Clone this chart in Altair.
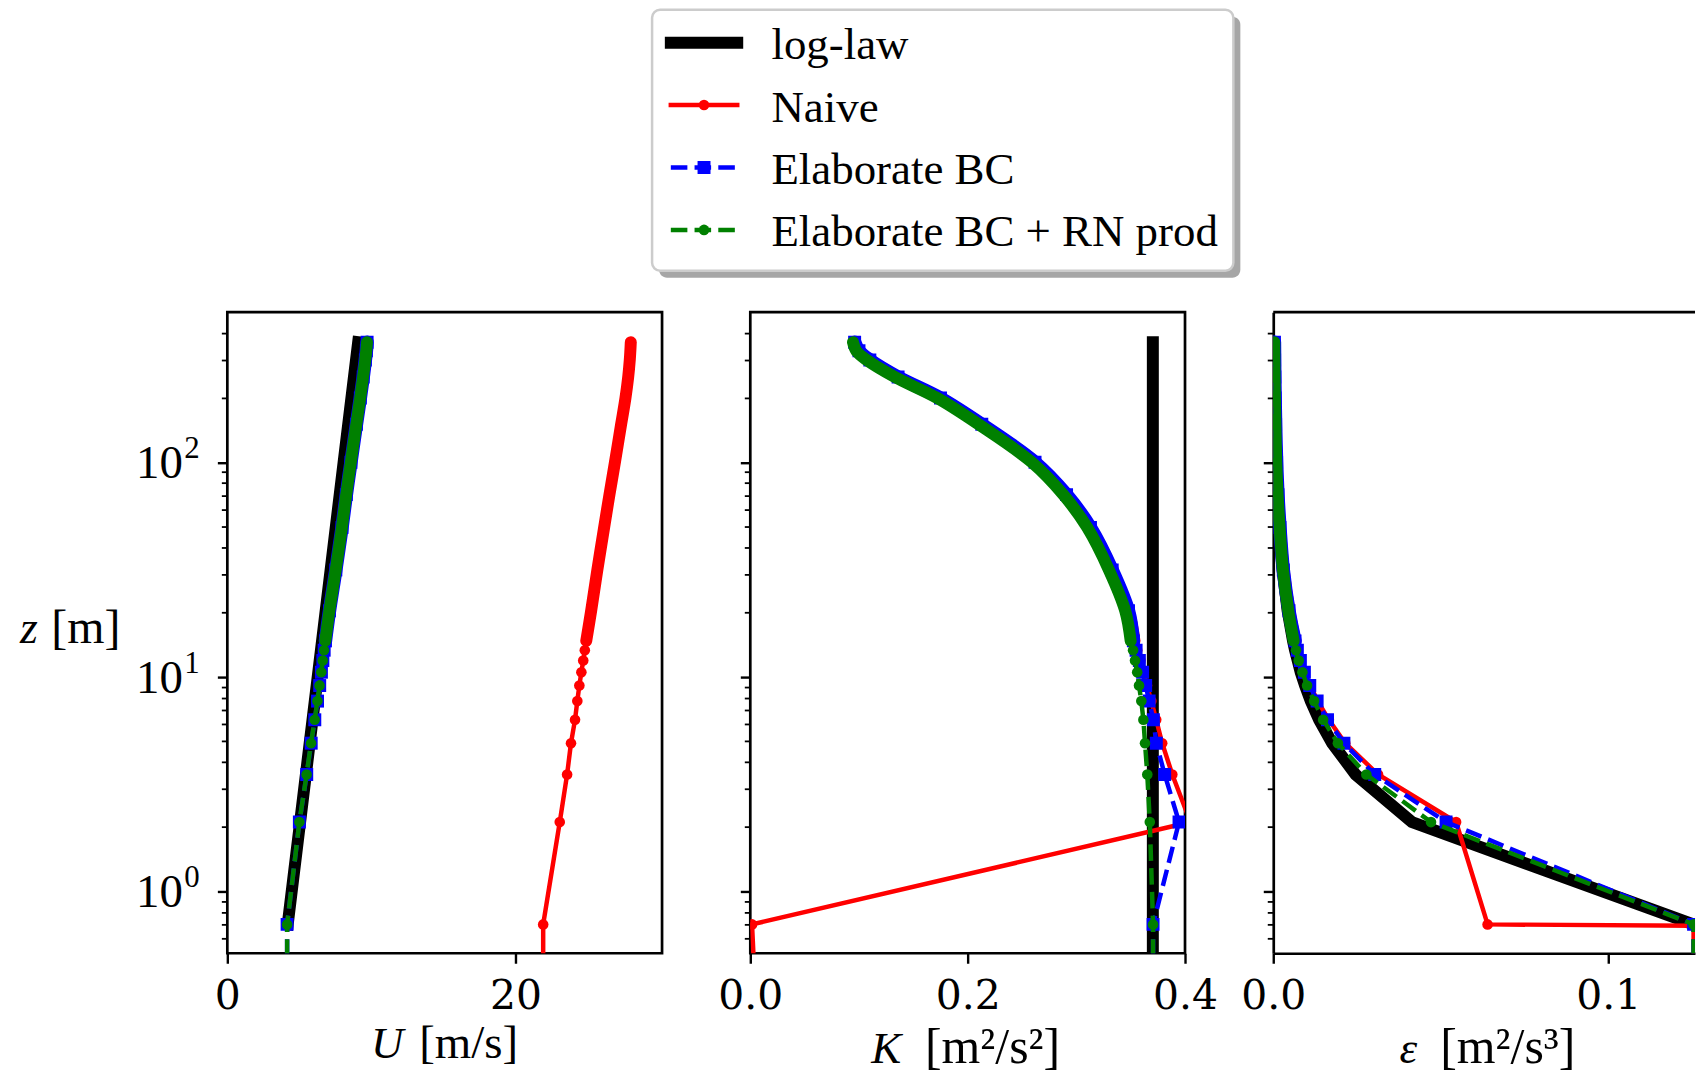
import altair as alt
import pandas as pd

FONT = "Liberation Serif"
TICK_FONT = "DejaVu Serif"
FS = 45

# ------------------------------------------------------------------ data
LABELS = ["log-law", "Naive", "Elaborate BC", "Elaborate BC + RN prod"]

# sampled cell-centre heights [m]
Z = [0.7, 2.1, 3.5, 4.9, 6.3, 7.7, 9.1, 10.5, 11.9, 13.3, 14.7,
     20.3, 31.5, 49.7, 70.7, 100.1, 150.5, 199.5, 249.9, 300.3, 331.1, 363.3]
# wall height: lies below the lower axis limit, only the clipped segment shows
Z_WALL = 0.3

# mean velocity U [m/s]
Z_U_LOGLAW = [0.7, 9.1, 100.1, 363.3]
U_LOGLAW = [4.19, 6.20, 8.07, 9.08]
U_NAIVE = [21.92, 23.07, 23.58, 23.85, 24.13, 24.29, 24.43, 24.57, 24.70, 24.81, 24.91,
           25.25, 25.68, 26.15, 26.52, 26.90, 27.33, 27.63, 27.82, 27.93, 27.97, 28.00]
U_BC = [4.15, 5.00, 5.51, 5.82, 6.07, 6.26, 6.41, 6.53, 6.63, 6.72, 6.81,
        7.09, 7.53, 7.96, 8.26, 8.58, 8.96, 9.23, 9.43, 9.58, 9.65, 9.70]
U_RN = [4.15, 5.00, 5.50, 5.81, 6.06, 6.25, 6.40, 6.52, 6.62, 6.71, 6.80,
        7.08, 7.52, 7.95, 8.25, 8.57, 8.95, 9.22, 9.42, 9.57, 9.64, 9.69]
U_WALL = {"Naive": 21.92, "Elaborate BC": 4.15, "Elaborate BC + RN prod": 4.15}

# turbulent kinetic energy K [m2/s2]
Z_K_LOGLAW = [Z_WALL, 0.7, 363.3]
K_LOGLAW = [0.3704, 0.3704, 0.3704]
K_NAIVE = [0.0016, 0.4050, 0.3883, 0.3790, 0.3735, 0.3690, 0.3650, 0.3620, 0.3590, 0.3560, 0.3535,
           0.3480, 0.3330, 0.3130, 0.2910, 0.2620, 0.2130, 0.1750, 0.1360, 0.1100, 0.1000, 0.0960]
K_BC = [0.3706, 0.3945, 0.3813, 0.3736, 0.3709, 0.3670, 0.3638, 0.3610, 0.3580, 0.3550, 0.3525,
        0.3480, 0.3330, 0.3130, 0.2910, 0.2620, 0.2130, 0.1750, 0.1360, 0.1100, 0.1000, 0.0960]
K_RN = [0.3706, 0.3676, 0.3653, 0.3632, 0.3617, 0.3598, 0.3577, 0.3560, 0.3540, 0.3522, 0.3500,
        0.3450, 0.3300, 0.3100, 0.2880, 0.2590, 0.2100, 0.1720, 0.1330, 0.1070, 0.0975, 0.0945]
K_WALL = {"Naive": 0.005, "Elaborate BC": 0.3706, "Elaborate BC + RN prod": 0.3706}

# dissipation epsilon [m2/s3]
E_LOGLAW = [0.1255, 0.0414, 0.0246, 0.0176, 0.0137, 0.0112, 0.0095, 0.0082, 0.0073, 0.0065, 0.0059,
            0.0043, 0.0028, 0.00175, 0.00123, 0.00087, 0.00058, 0.00044, 0.00035, 0.00029, 0.00026, 0.00024]
E_NAIVE = [0.0640, 0.0546, 0.0313, 0.0215, 0.0166, 0.0133, 0.0110, 0.0094, 0.0082, 0.0073, 0.0066,
           0.0048, 0.0031, 0.0020, 0.0014, 0.0010, 0.0007, 0.00055, 0.00046, 0.00040, 0.00038, 0.00036]
E_BC = [0.1255, 0.0516, 0.0303, 0.0211, 0.0162, 0.0131, 0.0109, 0.0093, 0.0081, 0.0072, 0.0065,
        0.0047, 0.0030, 0.0020, 0.0014, 0.0010, 0.0007, 0.00055, 0.00046, 0.00040, 0.00038, 0.00036]
E_RN = [0.1255, 0.0471, 0.0278, 0.0193, 0.0149, 0.0122, 0.0101, 0.0087, 0.0076, 0.0068, 0.0061,
        0.0045, 0.0029, 0.0019, 0.0013, 0.0009, 0.00065, 0.0005, 0.00042, 0.00037, 0.00035, 0.00033]
Z_E_NAIVE_WALL = [Z_WALL, 0.69]
E_NAIVE_WALL = [0.1255, 0.1255]
E_WALL = 0.1255

Y_TICKS = [0.6, 0.7, 0.8, 0.9, 1, 2, 3, 4, 5, 6, 7, 8, 9, 10, 20, 30, 40, 50, 60, 70, 80, 90,
           100, 200, 300, 400]
Y_LABEL_Z = [1, 10, 100]
Y_LABEL_EXP = ["0", "1", "2"]

# ------------------------------------------------------------------ style
W, H = 436, 643
W3 = 423            # last panel runs to the right edge of the figure
DASH = [16.6, 7.2]
BAND_FROM = 14.7    # above this height the markers merge into a band
FRAME_W = 2.7
STYLES = {
    "log-law": dict(color="black", width=12, dash=None),
    "Naive": dict(color="red", width=4.5, dash=None, shape="circle", size=113, band=12),
    "Elaborate BC": dict(color="blue", width=4.5, dash=DASH, shape="square", size=169, band=13.5),
    "Elaborate BC + RN prod": dict(color="green", width=4.5, dash=DASH, shape="circle", size=113, band=12),
}

YSCALE = alt.Scale(type="log", domain=[0.5133, 501.6], nice=False)
IS_DECADE = "abs(log(datum.value) / LN10 - round(log(datum.value) / LN10)) < 1e-6"


def y_encoding(domain_line=False):
    kw = dict(values=Y_TICKS, labels=False, title=None, grid=False, tickColor="black",
              tickSize={"condition": {"test": IS_DECADE, "value": 10}, "value": 6},
              tickWidth={"condition": {"test": IS_DECADE, "value": 2.4}, "value": 1.8})
    if domain_line:
        kw.update(domain=True, domainColor="black", domainWidth=FRAME_W)
    else:
        kw.update(domain=False)
    return alt.Y("z:Q", scale=YSCALE, axis=alt.Axis(**kw))


def x_encoding(domain, values, fmt, domain_line=False):
    kw = dict(values=values, format=fmt, title=None, grid=False,
              tickColor="black", tickSize=10, tickWidth=2.4,
              labelFont=TICK_FONT, labelFontSize=41, labelColor="black",
              labelPadding=13, labelFlush=False, labelOverlap=False, labelBound=False)
    if domain_line:
        kw.update(domain=True, domainColor="black", domainWidth=FRAME_W)
    else:
        kw.update(domain=False)
    return alt.X("v:Q", scale=alt.Scale(domain=domain, nice=False, zero=False), axis=alt.Axis(**kw))


def frame(z, v):
    return pd.DataFrame({"i": list(range(len(z))), "z": list(z), "v": list(v)})


def series_layers(df, label, x, y):
    st = STYLES[label]
    kw = dict(color=st["color"], strokeWidth=st["width"], clip=True)
    if st["dash"]:
        kw["strokeDash"] = st["dash"]
        kw["strokeCap"] = "butt"
    else:
        kw["strokeCap"] = "square"
    out = [alt.Chart(df).mark_line(**kw).encode(x=x, y=y, order="i:Q")]
    if "shape" in st:
        band = df[df["z"] >= BAND_FROM]
        out.append(alt.Chart(band).mark_line(color=st["color"], strokeWidth=st["band"],
                                             strokeCap="round", strokeJoin="round",
                                             interpolate="catmull-rom", clip=True)
                   .encode(x=x, y=y, order="i:Q"))
        out.append(alt.Chart(df).mark_point(shape=st["shape"], size=st["size"], filled=True,
                                            opacity=1, color=st["color"], clip=True)
                   .encode(x=x, y=y))
    return out


def text(s, x, y, align="left", style="normal", size=FS):
    return alt.Chart(pd.DataFrame({"t": [s]})).mark_text(
        align=align, baseline="alphabetic", font=FONT, fontSize=size, fontStyle=style,
        color="black").encode(x=alt.value(x), y=alt.value(y), text="t:N")


def axis_title(symbol, unit, x_left, x_right, y, unit_size=47):
    return [text(symbol, x_left, y, style="italic", size=45),
            text(unit, x_right, y, align="right", size=unit_size)]


# ------------------------------------------------------------------ panel U
yu = y_encoding()
xu = x_encoding([0, 30.17], [0, 20], "d")
p1 = series_layers(frame(Z_U_LOGLAW, U_LOGLAW), "log-law", xu, yu)
p1 += series_layers(frame([Z_WALL] + Z, [U_WALL["Naive"]] + U_NAIVE), "Naive", xu, yu)
p1 += series_layers(frame([Z_WALL] + Z, [U_WALL["Elaborate BC"]] + U_BC), "Elaborate BC", xu, yu)
p1 += series_layers(frame([Z_WALL] + Z, [U_WALL["Elaborate BC + RN prod"]] + U_RN),
                    "Elaborate BC + RN prod", xu, yu)
ylab = pd.DataFrame({"z": Y_LABEL_Z, "base": ["10"] * 3, "exp": Y_LABEL_EXP})
p1.append(alt.Chart(ylab).mark_text(align="right", baseline="alphabetic", dy=16, font=FONT,
                                    fontSize=47, color="black")
          .encode(x=alt.value(-44.5), y=yu, text="base:N"))
p1.append(alt.Chart(ylab).mark_text(align="left", baseline="alphabetic", dy=-4, font=FONT,
                                    fontSize=31, color="black")
          .encode(x=alt.value(-43.2), y=yu, text="exp:N"))
p1.append(text("z", -208, 332, style="italic", size=46))
p1.append(text("[m]", -107.2, 332, align="right", size=48))
p1 += axis_title("U", "[m/s]", 144, 291.6, 748)
panel_u = alt.layer(*p1).properties(width=W, height=H)

# ------------------------------------------------------------------ panel K
yk = y_encoding()
xk = x_encoding([0, 0.4], [0.0, 0.2, 0.4], ".1f")
p2 = series_layers(frame(Z_K_LOGLAW, K_LOGLAW), "log-law", xk, yk)
p2 += series_layers(frame([Z_WALL] + Z, [K_WALL["Naive"]] + K_NAIVE), "Naive", xk, yk)
p2 += series_layers(frame([Z_WALL] + Z, [K_WALL["Elaborate BC"]] + K_BC), "Elaborate BC", xk, yk)
p2 += series_layers(frame([Z_WALL] + Z, [K_WALL["Elaborate BC + RN prod"]] + K_RN),
                    "Elaborate BC + RN prod", xk, yk)
p2 += axis_title("K", "[m²/s²]", 121.2, 310.7, 753, unit_size=50)

# legend box, drawn above the middle panel
one = pd.DataFrame({"k": [0]})
LX, LX2, LY, LY2 = -98.5, 484.5, -303.3, -41.5
SH = 7
p2.append(alt.Chart(one).mark_rect(fill="#a6a6a6", cornerRadius=8).encode(
    x=alt.value(LX + SH), x2=alt.value(LX2 + SH), y=alt.value(LY + SH), y2=alt.value(LY2 + SH)))
p2.append(alt.Chart(one).mark_rect(fill="white", stroke="#cccccc", strokeWidth=2.5,
                                   cornerRadius=8).encode(
    x=alt.value(LX), x2=alt.value(LX2), y=alt.value(LY), y2=alt.value(LY2)))
ROW0, ROW_STEP = -270.3, 62.6
for i, label in enumerate(LABELS):
    st = STYLES[label]
    yr = ROW0 + ROW_STEP * i
    kw = dict(color=st["color"], strokeWidth=st["width"])
    if st["dash"]:
        kw["strokeDash"] = st["dash"]
        kw["strokeCap"] = "butt"
    else:
        kw["strokeCap"] = "square"
    p2.append(alt.Chart(one).mark_rule(**kw).encode(
        x=alt.value(-79.7), x2=alt.value(-13.1), y=alt.value(yr)))
    if "shape" in st:
        p2.append(alt.Chart(one).mark_point(shape=st["shape"], size=st["size"], filled=True,
                                            opacity=1, color=st["color"])
                  .encode(x=alt.value(-46.4), y=alt.value(yr)))
    p2.append(alt.Chart(pd.DataFrame({"label": [label]})).mark_text(
        align="left", baseline="alphabetic", font=FONT, fontSize=FS, color="black")
        .encode(x=alt.value(21.2), y=alt.value(yr + 16.5), text="label:N"))
panel_k = alt.layer(*p2).properties(width=W, height=H)

# ------------------------------------------------------------------ panel epsilon
ye = y_encoding(domain_line=True)
xe = x_encoding([0, 0.12593], [0.0, 0.1], ".1f", domain_line=True)
p3 = series_layers(frame(Z, E_LOGLAW), "log-law", xe, ye)
p3 += series_layers(frame(Z_E_NAIVE_WALL + Z, E_NAIVE_WALL + E_NAIVE), "Naive", xe, ye)
p3 += series_layers(frame([Z_WALL] + Z, [E_WALL] + E_BC), "Elaborate BC", xe, ye)
p3 += series_layers(frame([Z_WALL] + Z, [E_WALL] + E_RN), "Elaborate BC + RN prod", xe, ye)
# top edge of the frame (left and bottom edges come from the axis lines)
p3.append(alt.Chart(one).mark_rule(color="black", strokeWidth=FRAME_W, strokeCap="butt").encode(
    x=alt.value(0), x2=alt.value(W3), y=alt.value(0)))
p3 += axis_title("ε", "[m²/s³]", 126.7, 303, 753, unit_size=50)
panel_e = alt.layer(*p3).properties(width=W3, height=H,
                                    view=alt.ViewBackground(stroke="transparent"))

chart = (
    alt.hconcat(panel_u, panel_k, panel_e, spacing=88.5, bounds="flush")
    .properties(padding={"left": 18, "top": 5.5, "right": 0, "bottom": 0})
    .configure_view(stroke="black", strokeWidth=FRAME_W)
)

chart.save("out.html", embed_options={"renderer": "svg", "actions": False})
